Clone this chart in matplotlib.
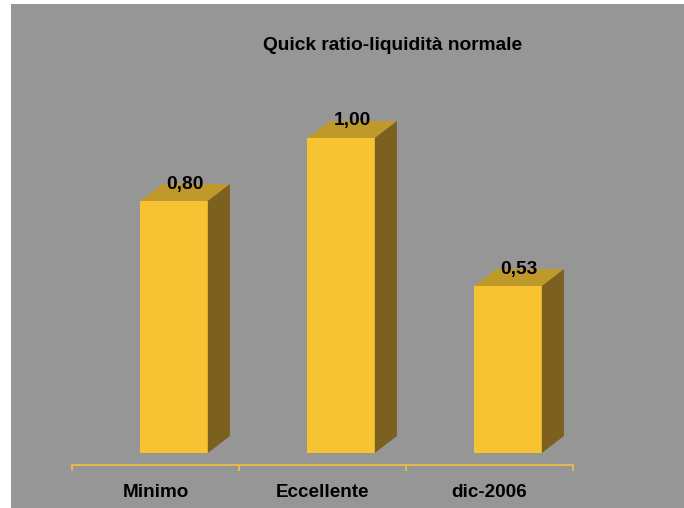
import matplotlib
matplotlib.use("Agg")
import matplotlib.pyplot as plt
from matplotlib.patches import Polygon, Rectangle

categories = ["Minimo", "Eccellente", "dic-2006"]
values = [0.80, 1.00, 0.53]
labels = ["0,80", "1,00", "0,53"]
title = "Quick ratio-liquidità normale"

W, H = 684, 508
fig = plt.figure(figsize=(W / 100, H / 100), dpi=100, facecolor="white")
plt.rcParams['font.family'] = ['Liberation Sans', 'DejaVu Sans']

# grey chart area with white margin on left/top
fig.patches.append(Rectangle((11 / W, 0), 1 - 11 / W, 1 - 4 / H,
                             transform=fig.transFigure, facecolor="#969696",
                             edgecolor="none", zorder=-5))

# axes: x 0..3 categories from px 72 to 573, value 0 at px 453, 315 px per unit
ppu = 315.0
ax_bot_px, ax_top_px = 465, 30
ymin = -(ax_bot_px - 453) / ppu
ymax = (453 - ax_top_px) / ppu
ax = fig.add_axes([72 / W, (H - ax_bot_px) / H, (573 - 72) / W, (ax_bot_px - ax_top_px) / H])
ax.set_zorder(2)
ax.set_facecolor("none")
ax.set_xlim(0, 3)
ax.set_ylim(ymin, ymax)

front = "#F8C332"
top_c = "#BF9A2B"
side = "#7B6020"
gold = "#F0C040"

bw = 67 / 166.0
dx = 22 / 166.0
dy = 17 / ppu
left0 = 68 / 166.0

for i, v in enumerate(values):
    x0 = i + left0
    x1 = x0 + bw
    ax.bar(x0, v, width=bw, align="edge", color=front, edgecolor="none", zorder=2)
    ax.add_patch(Polygon([(x0, v), (x1, v), (x1 + dx, v + dy), (x0 + dx, v + dy)],
                         closed=True, facecolor=top_c, edgecolor="none", zorder=2))
    ax.add_patch(Polygon([(x1, 0), (x1 + dx, dy), (x1 + dx, v + dy), (x1, v)],
                         closed=True, facecolor=side, edgecolor="none", zorder=2))
    ax.text(x0 + (bw + dx) / 2, v + dy * 1.0, labels[i], ha="center", va="center",
            fontsize=13.8, fontweight="bold", color="black", zorder=3)

for s in ["top", "right", "left"]:
    ax.spines[s].set_visible(False)
ax.spines["bottom"].set_color(gold)
ax.spines["bottom"].set_linewidth(1.2)
ax.set_yticks([])
ax.set_xticks([0, 1, 2, 3])
ax.set_xticklabels([])
ax.tick_params(axis="x", which="major", direction="out", length=4, width=1.2, color=gold)
ax.set_xticks([0.5, 1.5, 2.5], minor=True)
ax.set_xticklabels(categories, minor=True, fontsize=13.6, fontweight="bold")
ax.tick_params(axis="x", which="minor", length=0, pad=14)

fig.text(392.5 / W, 1 - 45 / H, title, ha="center", va="center",
         fontsize=13.8, fontweight="bold", color="black")

fig.savefig("out.png", dpi=100, facecolor="white")
